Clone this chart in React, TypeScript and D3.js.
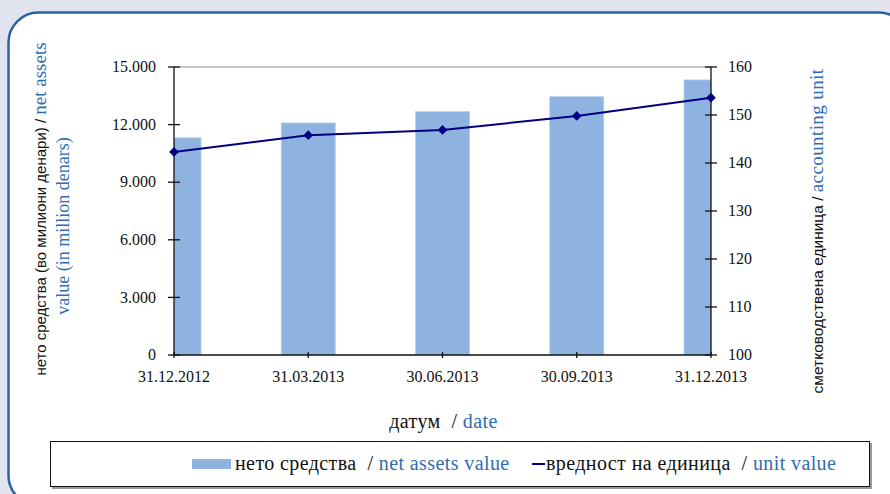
import React, { useEffect, useRef } from 'react'
import * as d3 from 'd3'

// Chart data
const dates = ['31.12.2012', '31.03.2013', '30.06.2013', '30.09.2013', '31.12.2013']
const netAssets = [11310, 12085, 12675, 13455, 14325]
const unitValue = [142.3, 145.8, 146.9, 149.8, 153.6]
const leftTicks = [0, 3000, 6000, 9000, 12000, 15000]
const rightTicks = [100, 110, 120, 130, 140, 150, 160]

const W = 890
const H = 494
const SERIF = '"Liberation Serif", serif'
const SANS = '"Liberation Sans", Arial, sans-serif'
const BLUE = '#2e6db4'

const locale = d3.formatLocale({ decimal: ',', thousands: '.', grouping: [3], currency: ['', ''] })
const fmt = locale.format(',')

const App = () => {
  const svgRef = useRef<SVGSVGElement>(null)

  useEffect(() => {
    if (!svgRef.current) return
    const svg = d3.select(svgRef.current)
    svg.selectAll('*').remove()

    const plot = { left: 174, right: 711, top: 67, bottom: 355 }

    const x = d3.scalePoint().domain(dates).range([plot.left, plot.right])
    const yL = d3.scaleLinear().domain([0, 15000]).range([plot.bottom, plot.top])
    const yR = d3.scaleLinear().domain([100, 160]).range([plot.bottom, plot.top])
    const barW = 54

    // background + rounded frame
    svg.append('rect').attr('width', W).attr('height', H).attr('fill', '#e1e3ef')
    svg.append('rect')
      .attr('x', 8.5).attr('y', 12.5).attr('width', 900).attr('height', 493)
      .attr('rx', 30).attr('ry', 30)
      .attr('fill', '#fff').attr('stroke', '#2a62a6').attr('stroke-width', 2.5)

    svg.append('defs').append('clipPath').attr('id', 'plot-clip')
      .append('rect')
      .attr('x', plot.left).attr('y', plot.top)
      .attr('width', plot.right - plot.left).attr('height', plot.bottom - plot.top)

    // top border of plot area
    svg.append('line')
      .attr('x1', plot.left).attr('x2', plot.right).attr('y1', plot.top).attr('y2', plot.top)
      .attr('stroke', '#8c8c8c').attr('stroke-width', 1.2)

    // bars
    svg.append('g').attr('clip-path', 'url(#plot-clip)')
      .selectAll('rect')
      .data(netAssets)
      .enter()
      .append('rect')
      .attr('x', (d, i) => (x(dates[i]) as number) - barW / 2)
      .attr('y', d => yL(d))
      .attr('width', barW)
      .attr('height', d => plot.bottom - yL(d))
      .attr('fill', '#8eb3e1')
      .attr('stroke', '#b5cdec')
      .attr('stroke-width', 0.8)

    // axes lines
    const axisG = svg.append('g').attr('stroke', '#111').attr('stroke-width', 1.3)
    axisG.append('line').attr('x1', plot.left).attr('x2', plot.left).attr('y1', plot.top).attr('y2', plot.bottom)
    axisG.append('line').attr('x1', plot.right).attr('x2', plot.right).attr('y1', plot.top).attr('y2', plot.bottom)
    axisG.append('line').attr('x1', plot.left).attr('x2', plot.right).attr('y1', plot.bottom).attr('y2', plot.bottom)

    axisG.selectAll('.tl').data(leftTicks).enter().append('line')
      .attr('x1', plot.left - 6).attr('x2', plot.left + 6)
      .attr('y1', d => yL(d)).attr('y2', d => yL(d))
    axisG.selectAll('.tr').data(rightTicks).enter().append('line')
      .attr('x1', plot.right - 6).attr('x2', plot.right + 6)
      .attr('y1', d => yR(d)).attr('y2', d => yR(d))
    axisG.selectAll('.tb').data(dates).enter().append('line')
      .attr('x1', d => x(d) as number).attr('x2', d => x(d) as number)
      .attr('y1', plot.bottom - 3).attr('y2', plot.bottom + 3)

    // tick labels
    svg.append('g').selectAll('text').data(leftTicks).enter().append('text')
      .attr('x', 156).attr('y', d => yL(d)).attr('dy', '0.33em')
      .attr('text-anchor', 'end')
      .style('font-family', SERIF).style('font-size', '16px').style('fill', '#111')
      .text(d => fmt(d))
    svg.append('g').selectAll('text').data(rightTicks).enter().append('text')
      .attr('x', 728).attr('y', d => yR(d)).attr('dy', '0.33em')
      .style('font-family', SERIF).style('font-size', '16px').style('fill', '#111')
      .text(d => d)
    svg.append('g').selectAll('text').data(dates).enter().append('text')
      .attr('x', d => x(d) as number).attr('y', 382)
      .attr('text-anchor', 'middle')
      .style('font-family', SERIF).style('font-size', '16px').style('fill', '#111')
      .text(d => d)

    // unit value line
    const line = d3.line<number>()
      .x((d, i) => x(dates[i]) as number)
      .y(d => yR(d))
    svg.append('path')
      .attr('d', line(unitValue))
      .attr('fill', 'none').attr('stroke', '#000080').attr('stroke-width', 2)
    svg.append('g').selectAll('path').data(unitValue).enter().append('path')
      .attr('d', d3.symbol().type(d3.symbolDiamond2).size(60)())
      .attr('transform', (d, i) => `translate(${x(dates[i])},${yR(d)})`)
      .attr('fill', '#000080')

    // left axis title (two lines)
    const t1 = svg.append('text')
      .attr('transform', `translate(46,209) rotate(-90)`)
      .attr('text-anchor', 'middle')
      .style('white-space', 'pre')
    t1.append('tspan').style('font-family', SANS).style('font-size', '15px').style('fill', '#111')
      .text('нето средства (во милиони денари) / ')
    t1.append('tspan').style('font-family', SERIF).style('fill', BLUE).style('font-size', '19px')
      .text('net assets')
    svg.append('text')
      .attr('transform', `translate(69,226) rotate(-90)`)
      .attr('text-anchor', 'middle')
      .style('font-family', SERIF).style('font-size', '18px').style('fill', BLUE)
      .text('value (in million denars)')

    // right axis title
    const t2 = svg.append('text')
      .attr('transform', `translate(823,231) rotate(-90)`)
      .attr('text-anchor', 'middle')
      .style('white-space', 'pre')
    t2.append('tspan').style('font-family', SANS).style('font-size', '15.5px').style('fill', '#111')
      .text('сметководствена единица / ')
    t2.append('tspan').style('font-family', SERIF).style('fill', BLUE).style('font-size', '19px')
      .style('letter-spacing', '0.4px')
      .text('accounting unit')

    // x axis title
    const t3 = svg.append('text')
      .attr('x', 443.5).attr('y', 428)
      .attr('text-anchor', 'middle')
      .style('white-space', 'pre')
      .style('font-family', SERIF).style('font-size', '20px').style('letter-spacing', '0.4px')
    t3.append('tspan').style('fill', '#111').text('датум  / ')
    t3.append('tspan').style('fill', BLUE).text('date')

    // legend box
    svg.append('rect')
      .attr('x', 52).attr('y', 443).attr('width', 820).attr('height', 46)
      .attr('fill', '#9a9a9a')
    svg.append('rect')
      .attr('x', 50.5).attr('y', 441.5).attr('width', 819).attr('height', 45)
      .attr('fill', '#fff').attr('stroke', '#111').attr('stroke-width', 1)

    svg.append('rect')
      .attr('x', 192).attr('y', 459).attr('width', 39).attr('height', 10)
      .attr('fill', '#8eb3e1')
    const l1 = svg.append('text')
      .attr('x', 235).attr('y', 470)
      .style('white-space', 'pre')
      .style('font-family', SERIF).style('font-size', '20px').style('letter-spacing', '0.4px')
    l1.append('tspan').style('fill', '#111').text('нето средства  / ')
    l1.append('tspan').style('fill', BLUE).text('net assets value')

    svg.append('line')
      .attr('x1', 532).attr('x2', 545).attr('y1', 464).attr('y2', 464)
      .attr('stroke', '#000080').attr('stroke-width', 2)
    const l2 = svg.append('text')
      .attr('x', 546).attr('y', 470)
      .style('white-space', 'pre')
      .style('font-family', SERIF).style('font-size', '20px').style('letter-spacing', '0.4px')
    l2.append('tspan').style('fill', '#111').text('вредност на единица  / ')
    l2.append('tspan').style('fill', BLUE).text('unit value')
  }, [])

  return (
    <div style={{ position: 'fixed', left: 0, top: 0, width: W, height: H, overflow: 'hidden' }}>
      <svg ref={svgRef} width={W} height={H} style={{ display: 'block' }} />
    </div>
  )
}

export default App
